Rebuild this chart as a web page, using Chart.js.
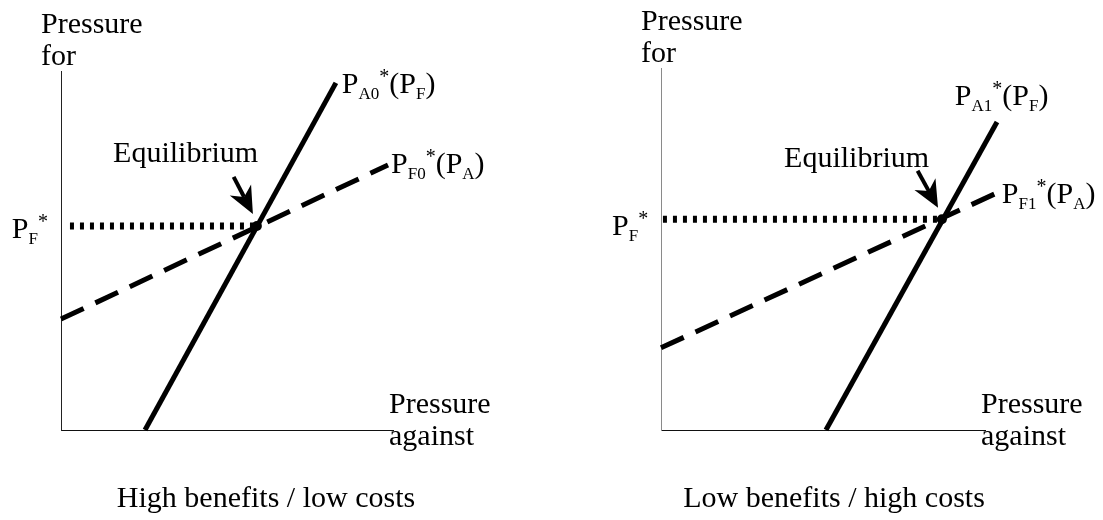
<!DOCTYPE html>
<html>
<head>
<meta charset="utf-8">
<script src="https://cdn.jsdelivr.net/npm/chart.js@4.4.0/dist/chart.umd.min.js"></script>
<style>
  body { margin: 0; background: #fff; }
  #wrap { position: relative; width: 1103px; height: 520px; }
  canvas { position: absolute; top: 0; }
  #chartLeft { left: 0; }
  #chartRight { left: 560px; }
</style>
</head>
<body>
<div id="wrap">
  <canvas id="chartLeft" width="560" height="520"></canvas>
  <canvas id="chartRight" width="543" height="520"></canvas>
</div>
<script>
// end points of each reaction curve, in pressure units (0-100 on both axes)
const againstHigh = [[25.3, 0], [82.8, 96.7]];   // P_A0*(P_F)
const forHigh = [[0, 30.9], [98.5, 73.8]];       // P_F0*(P_A)
const equilibriumHigh = [59.0, 56.8];
const againstLow = [[50.9, 0], [103.7, 85.1]];   // P_A1*(P_F)
const forLow = [[0, 22.7], [103.7, 65.5]];       // P_F1*(P_A)
const equilibriumLow = [86.7, 58.2];

const panelTitles = ['High benefits / low costs', 'Low benefits / high costs'];
const yAxisTitle = ['Pressure', 'for'];
const xAxisTitle = ['Pressure', 'against'];

// rich labels: [text, 'sub' | 'sup' | '']
const labelA0 = [['P', ''], ['A0', 'sub'], ['*', 'sup'], ['(P', ''], ['F', 'sub'], [')', '']];
const labelF0 = [['P', ''], ['F0', 'sub'], ['*', 'sup'], ['(P', ''], ['A', 'sub'], [')', '']];
const labelA1 = [['P', ''], ['A1', 'sub'], ['*', 'sup'], ['(P', ''], ['F', 'sub'], [')', '']];
const labelF1 = [['P', ''], ['F1', 'sub'], ['*', 'sup'], ['(P', ''], ['A', 'sub'], [')', '']];
const labelPF = [['P', ''], ['F', 'sub'], ['*', 'sup']];

const FONT = "'Liberation Serif', 'Times New Roman', serif";

const panels = [
  {
    id: 'chartLeft', title: panelTitles[0], titleX: 266,
    against: againstHigh, pfor: forHigh, eq: equilibriumHigh, guideStart: 2.7,
    padding: {left: 61, top: 71, right: 167, bottom: 90},
    yAxisColor: '#222', xAxisColor: '#111',
    labels: [
      {rich: labelA0, at: [84.6, 93.9]},
      {rich: labelF0, at: [99.4, 71.6]},
      {rich: labelPF, at: [-14.8, 53.5]},
      {text: 'Equilibrium', at: [15.7, 74.7]}
    ],
    arrow: {from: [52.0, 70.5], to: [57.8, 60.2]}
  },
  {
    id: 'chartRight', title: panelTitles[1], titleX: 274,
    against: againstLow, pfor: forLow, eq: equilibriumLow, guideStart: 0.6,
    padding: {left: 101, top: 68, right: 118, bottom: 90},
    yAxisColor: '#8a8a8a', xAxisColor: '#111',
    labels: [
      {rich: labelA1, at: [90.7, 89.8]},
      {rich: labelF1, at: [105.2, 62.7]},
      {rich: labelPF, at: [-15.1, 53.9]},
      {text: 'Equilibrium', at: [38.0, 72.7]}
    ],
    arrow: {from: [79.2, 71.6], to: [85.5, 61.4]}
  }
];

function toPoints(arr) {
  return arr.map(p => ({x: p[0], y: p[1]}));
}

function drawRich(ctx, x, y, parts) {
  parts.forEach(([txt, kind]) => {
    let size = 30, dy = 0;
    if (kind === 'sub') { size = 17; dy = 6; }
    if (kind === 'sup') { size = 20; dy = -10; }
    ctx.font = size + 'px ' + FONT;
    ctx.fillText(txt, x, y + dy);
    x += ctx.measureText(txt).width;
  });
}

function drawArrow(ctx, x1, y1, x2, y2) {
  const ang = Math.atan2(y2 - y1, x2 - x1);
  const len = 27, half = 12, notch = 8;
  const bx = x2 - Math.cos(ang) * (len - notch), by = y2 - Math.sin(ang) * (len - notch);
  ctx.beginPath();
  ctx.lineWidth = 4;
  ctx.moveTo(x1, y1);
  ctx.lineTo(bx, by);
  ctx.stroke();
  const backX = x2 - Math.cos(ang) * len, backY = y2 - Math.sin(ang) * len;
  const px = -Math.sin(ang) * half, py = Math.cos(ang) * half;
  ctx.beginPath();
  ctx.moveTo(x2, y2);
  ctx.lineTo(backX + px, backY + py);
  ctx.lineTo(bx, by);
  ctx.lineTo(backX - px, backY - py);
  ctx.closePath();
  ctx.fill();
}

const textPlugin = {
  id: 'textPlugin',
  afterDraw(chart) {
    const p = chart.options.plugins.textPlugin;
    const ctx = chart.ctx;
    const xs = chart.scales.x, ys = chart.scales.y;
    const area = chart.chartArea;
    ctx.save();
    ctx.fillStyle = '#000';
    ctx.strokeStyle = '#000';
    ctx.textBaseline = 'alphabetic';
    ctx.textAlign = 'left';
    ctx.font = '30px ' + FONT;
    // axis titles
    ctx.fillText(yAxisTitle[0], area.left - 20, area.top - 38);
    ctx.fillText(yAxisTitle[1], area.left - 20, area.top - 6);
    ctx.fillText(xAxisTitle[0], area.right - 4, area.bottom - 17);
    ctx.fillText(xAxisTitle[1], area.right - 4, area.bottom + 15);
    // curve labels
    p.labels.forEach(l => {
      const x = xs.getPixelForValue(l.at[0]), y = ys.getPixelForValue(l.at[1]);
      if (l.rich) drawRich(ctx, x, y, l.rich);
      else { ctx.font = '30px ' + FONT; ctx.fillText(l.text, x, y); }
    });
    // arrow pointing at the equilibrium
    drawArrow(ctx,
      xs.getPixelForValue(p.arrow.from[0]), ys.getPixelForValue(p.arrow.from[1]),
      xs.getPixelForValue(p.arrow.to[0]), ys.getPixelForValue(p.arrow.to[1]));
    // panel title
    ctx.font = '30px ' + FONT;
    ctx.textAlign = 'center';
    ctx.fillText(p.title, p.titleX, 507);
    ctx.restore();
  }
};

panels.forEach(panel => {
  const ctx = document.getElementById(panel.id).getContext('2d');
  const eq = {x: panel.eq[0], y: panel.eq[1]};
  new Chart(ctx, {
    type: 'scatter',
    data: {
      datasets: [
        {
          data: [eq],
          pointRadius: 5,
          pointBackgroundColor: '#000',
          pointBorderWidth: 0,
          showLine: false,
          clip: false
        },
        {
          data: toPoints(panel.against),
          borderColor: '#000',
          borderWidth: 5,
          borderCapStyle: 'butt',
          pointRadius: 0,
          showLine: true,
          clip: false
        },
        {
          data: toPoints(panel.pfor),
          borderColor: '#000',
          borderWidth: 5,
          borderDash: [25, 13],
          borderCapStyle: 'butt',
          pointRadius: 0,
          showLine: true,
          clip: false
        },
        {
          // dotted guide from the y axis to the equilibrium
          data: [{x: panel.guideStart, y: eq.y}, eq],
          borderColor: '#000',
          borderWidth: 7,
          borderDash: [4, 6],
          borderCapStyle: 'butt',
          pointRadius: 0,
          showLine: true,
          clip: false
        }
      ]
    },
    options: {
      responsive: false,
      animation: false,
      layout: {padding: panel.padding},
      scales: {
        x: {
          type: 'linear', min: 0, max: 100,
          ticks: {display: false},
          grid: {display: false, drawTicks: false},
          border: {display: true, color: panel.xAxisColor, width: 1}
        },
        y: {
          type: 'linear', min: 0, max: 100,
          ticks: {display: false},
          grid: {display: false, drawTicks: false},
          border: {display: true, color: panel.yAxisColor, width: 1}
        }
      },
      plugins: {
        legend: {display: false},
        tooltip: {enabled: false},
        textPlugin: panel
      }
    },
    plugins: [textPlugin]
  });
});
</script>
</body>
</html>
